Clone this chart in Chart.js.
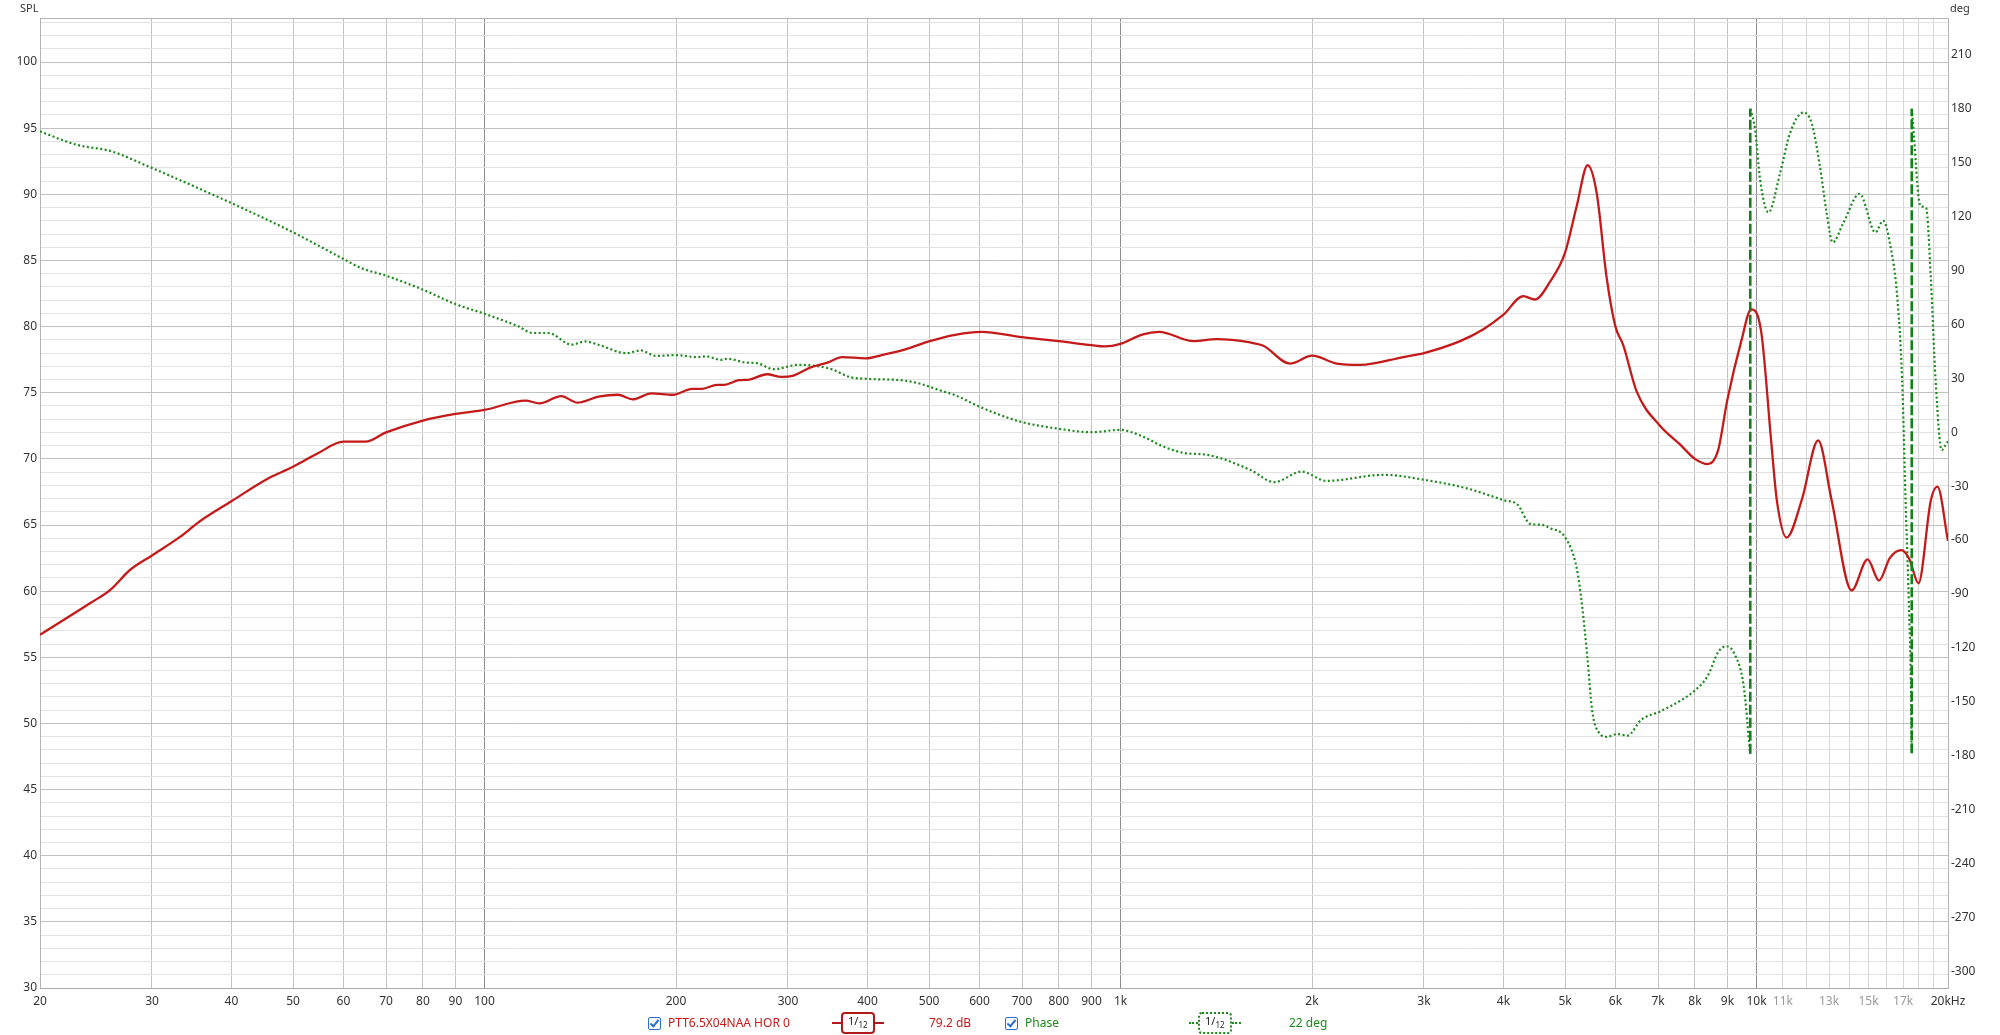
<!DOCTYPE html>
<html>
<head>
<meta charset="utf-8">
<title>PTT6.5X04NAA HOR 0</title>
<script src="https://cdn.jsdelivr.net/npm/chart.js@4.4.1/dist/chart.umd.min.js"></script>
<style>
  html, body { margin: 0; padding: 0; background: #fff; }
  body { position: relative; width: 2000px; height: 1035px; overflow: hidden; font-family: 'Noto Sans', sans-serif; }
  #grafico { position: absolute; left: 0; top: 0; }
  .eixo { position: absolute; top: 0; font-size: 11px; color: #333; }
  .leg { position: absolute; top: 1014px; height: 18px; line-height: 18px; font-size: 12px; white-space: nowrap; }
  .vermelho { color: #c41a1a; }
  .verde { color: #1a8a1a; }
  .check { top: 1017px; width: 11px; height: 11px; border: 1px solid #2a6fcf; border-radius: 2px; background: #fff; }
  .check::after { content: ''; position: absolute; left: 3px; top: 0px; width: 3px; height: 7px;
    border: solid #2a6fcf; border-width: 0 2px 2px 0; transform: rotate(40deg); }
  .suav { display: flex; align-items: center; top: 1013px; height: 20px; }
  .suav i { display: block; width: 9px; height: 0; }
  .suav b { display: block; font-weight: normal; font-size: 11px; line-height: 14px; padding: 0 5px; border-radius: 4px; color: #222; }
  .suav sub { font-size: 8px; vertical-align: -3px; }
  .suav.vermelho i { border-top: 2px solid #b01a1a; }
  .suav.vermelho b { border: 2px solid #b01a1a; }
  .suav.verde i { border-top: 2px dotted #1a8a1a; }
  .suav.verde b { border: 2px dotted #1a8a1a; }
</style>
</head>
<body>
<canvas id="grafico" width="2000" height="1035"></canvas>
<div class="eixo" style="left:20px">SPL</div>
<div class="eixo" style="left:1950px">deg</div>

<span class="leg check" style="left:648px"></span>
<span class="leg vermelho" style="left:668px">PTT6.5X04NAA HOR 0</span>
<span class="leg suav vermelho" style="left:832px"><i></i><b>1/<sub>12</sub></b><i></i></span>
<span class="leg vermelho" style="left:929px">79.2 dB</span>
<span class="leg check" style="left:1005px"></span>
<span class="leg verde" style="left:1025px">Phase</span>
<span class="leg suav verde" style="left:1189px"><i></i><b>1/<sub>12</sub></b><i></i></span>
<span class="leg verde" style="left:1289px">22 deg</span>

<script>
// SPL (dB)
const splFreq = [20, 24, 25.8, 27.7, 30, 33.2, 35.6, 40, 45.6, 50, 54.6, 60, 65, 70, 80, 90, 100,
  116, 122, 132, 140, 151, 162, 171, 183, 198, 212, 220, 232, 238, 251, 261, 278, 293, 306, 325, 347,
  365, 397, 426, 460, 501, 552, 604, 700, 800, 900, 944, 1000, 1081, 1150, 1302, 1416, 1598, 1677,
  1847, 2000, 2188, 2380, 2784, 3000, 3419, 3720, 4000, 4298, 4485, 4735, 5000, 5214, 5426, 5606,
  5812, 6000, 6172, 6478, 7050, 7579, 8000, 8385, 8695, 9000, 9462, 9810, 10171, 10546, 10760,
  11150, 11780, 12500, 13120, 14110, 14950, 15580, 16200, 16900, 17400, 17970, 18800, 19250, 20000];
const splDb = [56.7, 59.1, 60.1, 61.6, 62.7, 64.1, 65.25, 66.8, 68.5, 69.4, 70.4, 71.3, 71.3, 72.0, 72.9, 73.4, 73.7,
  74.4, 74.2, 74.75, 74.25, 74.7, 74.85, 74.5, 74.95, 74.85, 75.3, 75.3, 75.6, 75.6, 75.95, 76.0, 76.4, 76.2, 76.3, 76.9, 77.3,
  77.7, 77.6, 77.9, 78.3, 78.9, 79.4, 79.6, 79.2, 78.9, 78.6, 78.5, 78.7, 79.4, 79.6, 78.9, 79.05, 78.8, 78.55,
  77.2, 77.8, 77.2, 77.1, 77.7, 78.0, 78.9, 79.8, 80.9, 82.3, 82.05, 83.4, 85.6, 89.1, 92.2, 90.1,
  83.7, 80.0, 78.6, 75.1, 72.5, 71.1, 70.0, 69.6, 70.6, 74.5, 78.9, 81.3, 79.6, 71.3, 66.9,
  64.05, 66.9, 71.4, 66.9, 60.05, 62.4, 60.8, 62.5, 63.1, 62.4, 60.6, 66.9, 67.9, 63.8];

// Fase (graus), com os saltos de +-180
const phaseFreq = [20, 22.8, 25.9, 30, 40, 50, 60, 64, 70, 80, 90, 100, 113, 119, 126, 137, 144, 151,
  167, 176, 186, 200, 216, 223, 235, 241, 257, 268, 285, 312, 351, 375, 400, 455, 485, 517, 552, 596,
  645, 700, 800, 900, 1000, 1040, 1112, 1150, 1262, 1368, 1598, 1745, 1926, 2107, 2595, 3000, 3490,
  4000, 4211, 4406, 4596, 4735, 5000, 5214, 5318, 5419, 5517, 5652, 5812, 6042, 6269, 6585, 7050,
  7672, 8000, 8385, 8695, 8966, 9242, 9545, 9770,
  9780, 9950, 10130, 10440, 10890, 11290, 11850, 12210, 12580, 12890, 13170, 13690, 14520, 15380,
  15810, 16240, 16640, 16940, 17150, 17350, 17500, 17530,
  17550, 17700, 17970, 18170, 18480, 18800, 19120, 19550, 19750, 20000];
const phaseDeg = [167.4, 160, 156.3, 147, 127.5, 111.2, 96.4, 91.3, 87.1, 79.3, 71.3, 65.9, 58.9, 55.2, 55.2, 48.7, 50.5, 48.7,
  44.0, 45.5, 42.5, 42.9, 41.8, 42.2, 40.3, 40.9, 38.8, 38.4, 35.1, 37.5, 35.1, 30.7, 29.7, 28.8, 26.9, 23.6, 20.3, 14.7,
  9.7, 5.6, 1.9, 0.0, 1.3, 0.0, -4.2, -7.0, -11.6, -12.6, -20.9, -27.8, -21.9, -27.1, -23.7, -26.5, -31.1,
  -37.8, -40.4, -51.0, -51.5, -53.4, -58.5, -75.6, -96.7, -124.9, -155.4, -167.2, -169.5, -168, -168.8, -160.1, -155.4,
  -148.4, -143.7, -135.5, -122.6, -119.1, -123.7, -141.3, -178.9,
  180, 168.3, 140.5, 122.3, 144.2, 166.5, 177.9, 172.0, 147.9, 122.0, 105.6, 116.4, 132.7, 111.2,
  117.7, 103.4, 75.5, 29.2, -37.6, -93.3, -149, -178.6,
  180, 162.6, 131.2, 125.6, 124.7, 84.8, 29.2, -10, -8, -5];

// Rótulos dos eixos
const splTicks = [30, 35, 40, 45, 50, 55, 60, 65, 70, 75, 80, 85, 90, 95, 100];
const degTicks = [-300, -270, -240, -210, -180, -150, -120, -90, -60, -30, 0, 30, 60, 90, 120, 150, 180, 210];
const freqLabelVals = [20, 30, 40, 50, 60, 70, 80, 90, 100, 200, 300, 400, 500, 600, 700, 800, 900,
  1000, 2000, 3000, 4000, 5000, 6000, 7000, 8000, 9000, 10000, 11000, 13000, 15000, 17000, 20000];
const freqLabels = ['20', '30', '40', '50', '60', '70', '80', '90', '100', '200', '300', '400', '500', '600', '700', '800', '900',
  '1k', '2k', '3k', '4k', '5k', '6k', '7k', '8k', '9k', '10k', '11k', '13k', '15k', '17k', '20kHz'];

// linhas de grade: 1-9 por década, 1k em 1k acima de 10k
const gridFreqs = [];
[10, 100, 1000].forEach(function (d) {
  for (let m = 1; m <= 9; m++) {
    if (d * m >= 20) gridFreqs.push(d * m);
  }
});
for (let f = 10000; f <= 20000; f += 1000) gridFreqs.push(f);
const gridDb = [];
for (let v = 30; v <= 103; v++) gridDb.push(v);

const splPoints = splFreq.map(function (f, i) { return {x: f, y: splDb[i]}; });

// quebra a fase nos saltos e guarda a linha vertical tracejada
const phasePoints = [];
const wrapPoints = [];
for (let i = 0; i < phaseFreq.length; i++) {
  if (i > 0 && Math.abs(phaseDeg[i] - phaseDeg[i - 1]) > 300) {
    const fw = Math.sqrt(phaseFreq[i] * phaseFreq[i - 1]);
    phasePoints.push({x: fw, y: null});
    wrapPoints.push({x: fw, y: phaseDeg[i - 1]}, {x: fw, y: phaseDeg[i]}, {x: fw, y: null});
  }
  phasePoints.push({x: phaseFreq[i], y: phaseDeg[i]});
}

// moldura em volta da área do gráfico
const moldura = {
  id: 'moldura',
  afterDraw: function (chart) {
    const a = chart.chartArea;
    const c = chart.ctx;
    c.save();
    c.strokeStyle = '#b4b4b4';
    c.lineWidth = 1;
    c.beginPath();
    c.moveTo(a.left, a.top + 0.5);
    c.lineTo(a.right, a.top + 0.5);
    c.stroke();
    c.restore();
  }
};

Chart.defaults.font.family = "'Noto Sans', sans-serif";
Chart.defaults.font.size = 12;
Chart.defaults.color = '#333';

const ctx = document.getElementById('grafico');

const grafico = new Chart(ctx, {
  type: 'line',
  data: {
    datasets: [{
      label: 'wrap',
      data: wrapPoints,
      yAxisID: 'y2',
      borderColor: '#13801a',
      borderWidth: 2.6,
      borderDash: [10, 3],
      pointRadius: 0,
      spanGaps: false
    }, {
      label: 'PTT6.5X04NAA HOR 0',
      data: splPoints,
      yAxisID: 'y',
      borderColor: '#c41a1a',
      borderWidth: 2.3,
      pointRadius: 0,
      cubicInterpolationMode: 'monotone'
    }, {
      label: 'Phase',
      data: phasePoints,
      yAxisID: 'y2',
      borderColor: '#1a8a1a',
      borderWidth: 2.2,
      borderDash: [2, 2.5],
      pointRadius: 0,
      spanGaps: false,
      cubicInterpolationMode: 'monotone'
    }]
  },
  options: {
    responsive: false,
    animation: false,
    devicePixelRatio: 1,
    layout: { padding: { top: 18, left: 0, right: 0, bottom: 0 } },
    plugins: {
      legend: { display: false },
      tooltip: { enabled: false }
    },
    scales: {
      x: {
        type: 'logarithmic',
        min: 20,
        max: 20000,
        afterBuildTicks: function (scale) {
          scale.ticks = gridFreqs.map(function (v) { return {value: v}; });
        },
        afterFit: function (scale) { scale.height = 47; },
        grid: {
          drawTicks: false,
          color: function (c) {
            const v = c.tick ? c.tick.value : 0;
            if (v === 100 || v === 1000 || v === 10000) return '#8c8c8c';
            if (v > 10000) return '#d6d6d6';
            return '#c4c4c4';
          }
        },
        border: { color: '#a8a8a8' },
        ticks: {
          autoSkip: false,
          maxRotation: 0,
          minRotation: 0,
          padding: 6,
          color: function (c) {
            const v = c.tick ? c.tick.value : 0;
            return (v > 10000 && v < 20000) ? '#9a9a9a' : '#333';
          },
          callback: function (value) {
            const i = freqLabelVals.indexOf(value);
            return i >= 0 ? freqLabels[i] : '';
          }
        }
      },
      y: {
        position: 'left',
        min: 30,
        max: 103.33,
        afterBuildTicks: function (scale) {
          scale.ticks = gridDb.map(function (v) { return {value: v}; });
        },
        afterFit: function (scale) { scale.width = 40; },
        grid: {
          drawTicks: false,
          color: function (c) {
            const v = c.tick ? c.tick.value : 0;
            return v % 5 === 0 ? '#c2c2c2' : '#e2e2e2';
          }
        },
        border: { color: '#b4b4b4' },
        ticks: {
          autoSkip: false,
          padding: 3,
          callback: function (value) {
            return splTicks.indexOf(value) >= 0 ? String(value) : '';
          }
        }
      },
      y2: {
        position: 'right',
        min: -309.3,
        max: 230.5,
        afterBuildTicks: function (scale) {
          scale.ticks = degTicks.map(function (v) { return {value: v}; });
        },
        afterFit: function (scale) { scale.width = 52; },
        grid: { display: false, drawTicks: false },
        border: { display: true, color: '#b4b4b4' },
        ticks: { autoSkip: false, padding: 3 }
      }
    }
  },
  plugins: [moldura]
});
</script>
</body>
</html>
